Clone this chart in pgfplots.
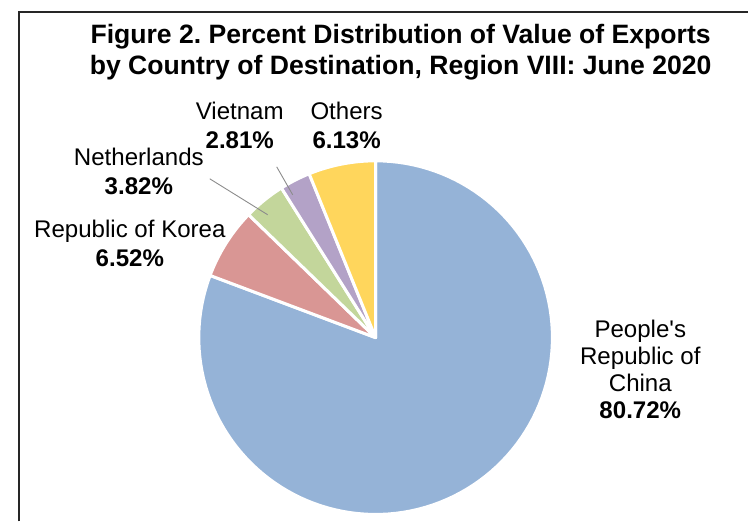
\documentclass[border=0pt]{standalone}
\usepackage{pgfplots}
\pgfplotsset{compat=1.18}
\usepackage{fontspec}
\setmainfont{Liberation Sans}
\frenchspacing
\definecolor{cChina}{HTML}{95B3D7}
\definecolor{cKorea}{HTML}{D99694}
\definecolor{cNeth}{HTML}{C3D69B}
\definecolor{cViet}{HTML}{B3A2C7}
\definecolor{cOth}{HTML}{FFD65C}
% data (percent)
\def\vChina{80.72}
\def\vKorea{6.52}
\def\vNeth{3.82}
\def\vViet{2.81}
\def\vOth{6.13}
\pgfmathsetmacro\aA{90}
\pgfmathsetmacro\aB{\aA-3.6*\vChina}
\pgfmathsetmacro\aC{\aB-3.6*\vKorea}
\pgfmathsetmacro\aD{\aC-3.6*\vNeth}
\pgfmathsetmacro\aE{\aD-3.6*\vViet}
\pgfmathsetmacro\aF{\aE-3.6*\vOth}
\def\cx{376}
\def\cy{184}
\def\rr{177}
\begin{document}
\begin{tikzpicture}
\begin{axis}[
  scale only axis, width=749pt, height=522pt,
  xmin=0, xmax=749, ymin=0, ymax=522,
  hide axis, clip=false,
  every axis plot/.append style={draw=white, line width=3pt, line join=round, samples=120, variable=\t},
]
\path (axis cs:0,0) rectangle (axis cs:749,522);
\addplot[fill=cChina, domain=\aB:\aA] ({\cx+\rr*cos(\t)},{\cy+\rr*sin(\t)}) -- (axis cs:\cx,\cy) -- cycle;
\addplot[fill=cKorea, domain=\aC:\aB] ({\cx+\rr*cos(\t)},{\cy+\rr*sin(\t)}) -- (axis cs:\cx,\cy) -- cycle;
\addplot[fill=cNeth, domain=\aD:\aC] ({\cx+\rr*cos(\t)},{\cy+\rr*sin(\t)}) -- (axis cs:\cx,\cy) -- cycle;
\addplot[fill=cViet, domain=\aE:\aD] ({\cx+\rr*cos(\t)},{\cy+\rr*sin(\t)}) -- (axis cs:\cx,\cy) -- cycle;
\addplot[fill=cOth, domain=\aF:\aE] ({\cx+\rr*cos(\t)},{\cy+\rr*sin(\t)}) -- (axis cs:\cx,\cy) -- cycle;
% frame
\draw[line width=1.6pt, black!85] (axis cs:19,0) -- (axis cs:19,510) -- (axis cs:749,510);
% leader lines
\draw[gray!90, line width=0.9pt] (axis cs:210,343) -- (axis cs:268,307);
\draw[gray!90, line width=0.9pt] (axis cs:277,355) -- (axis cs:293,327);
% title
\node[align=center, inner sep=0pt, font=\fontsize{26.6}{31}\selectfont\bfseries] at (axis cs:401,469.5)
  {Figure 2. Percent Distribution of Value of Exports\\by Country of Destination, Region VIII: June 2020};
% labels
\begin{scope}[every node/.style={align=center, inner sep=0pt, font=\fontsize{24.1}{29}\selectfont}]
\node at (axis cs:240,396.5) {Vietnam\\\textbf{2.81\%}};
\node at (axis cs:347,396.5) {Others\\\textbf{6.13\%}};
\node at (axis cs:139,350.5) {Netherlands\\\textbf{3.82\%}};
\node at (axis cs:130,278.5) {Republic of Korea\\\textbf{6.52\%}};
\end{scope}
\node[align=center, inner sep=0pt, font=\fontsize{24.1}{27}\selectfont] at (axis cs:641,152.5)
  {People\textquotesingle s\\Republic of\\China\\\textbf{80.72\%}};
\end{axis}
\end{tikzpicture}
\end{document}
